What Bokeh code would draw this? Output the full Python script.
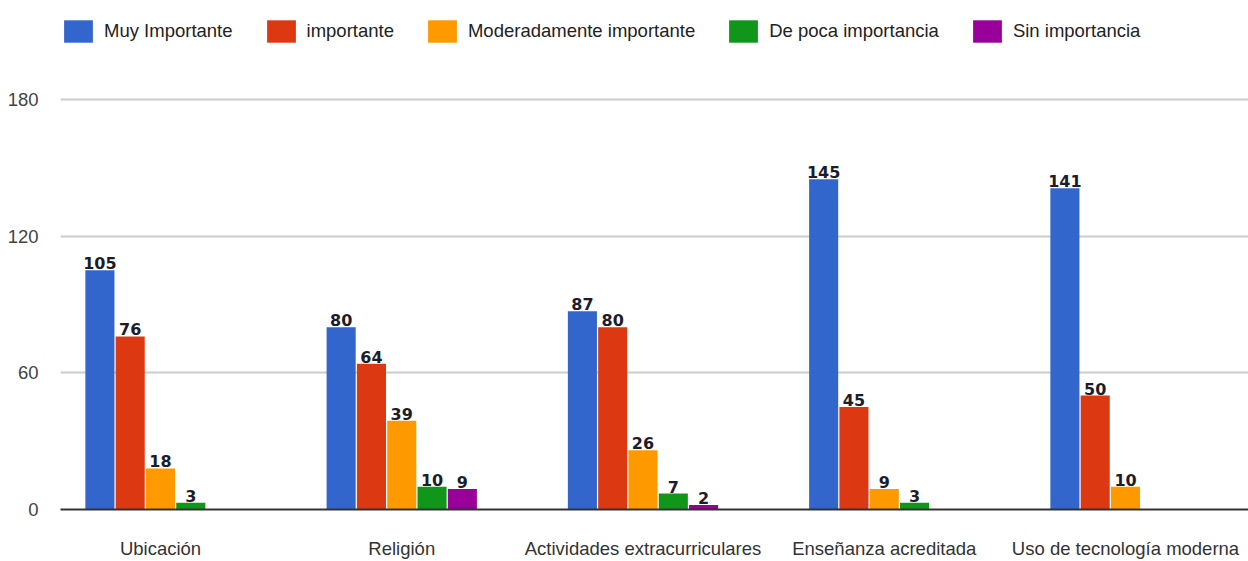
import numpy as np
from bokeh.plotting import figure
from bokeh.models import Legend, LegendItem, FixedTicker, Range1d, ColumnDataSource
from bokeh.embed import file_html
from bokeh.resources import INLINE
from bokeh.core.properties import value

# ---- data ----
categories = ["Ubicación", "Religión", "Actividades extracurriculares",
              "Enseñanza acreditada", "Uso de tecnología moderna"]
series = ["Muy Importante", "importante", "Moderadamente importante",
          "De poca importancia", "Sin importancia"]
muy_importante = [105, 80, 87, 145, 141]
importante = [76, 64, 80, 45, 50]
moderadamente_importante = [18, 39, 26, 9, 10]
de_poca_importancia = [3, 10, 7, 3, 0]
sin_importancia = [0, 9, 2, 0, 0]
y_ticks = [0, 60, 120, 180]

values = [muy_importante, importante, moderadamente_importante,
          de_poca_importancia, sin_importancia]
colors = ["#3366CC", "#DC3912", "#FF9900", "#109618", "#990099"]

FONT = "Liberation Sans"

# frame spans from the top of the figure to y=509; the legend sits inside it
p = figure(width=1248, height=561, output_backend="svg", toolbar_location=None,
           x_range=Range1d(-0.4145, 4.5098), y_range=Range1d(0, 223.46),
           min_border_left=60, min_border_right=0, min_border_top=0,
           min_border_bottom=52)
p.outline_line_color = None
p.background_fill_color = "white"

xs = np.arange(len(categories))
bw = 0.1256
items = []
for j, (name, vals, col) in enumerate(zip(series, values, colors)):
    xpos = xs + (j - 2) * bw
    r = p.vbar(x=xpos, top=vals, width=bw * 0.96, fill_color=col,
               line_color=None)
    items.append(LegendItem(label=name, renderers=[r]))
    lx = [x for x, v in zip(xpos, vals) if v > 0]
    lv = [v for v in vals if v > 0]
    src = ColumnDataSource(dict(x=lx, y=lv, t=[str(v) for v in lv]))
    p.text(x="x", y="y", text="t", source=src, text_align="center",
           text_baseline="bottom", y_offset=-1, text_font=value("DejaVu Sans"),
           text_font_style="bold", text_font_size="16px", text_color="#1c1c2a")

legend = Legend(items=items, location=(0, 464), orientation="horizontal",
                glyph_width=36, glyph_height=28, label_standoff=8, spacing=30,
                padding=0, margin=0, border_line_color=None,
                background_fill_alpha=0,
                label_text_font=FONT, label_text_font_size="18.5px",
                label_text_color="#222222")
p.add_layout(legend, "center")

# axes
p.xaxis.ticker = FixedTicker(ticks=list(xs))
p.xaxis.major_label_overrides = {int(i): c for i, c in enumerate(categories)}
p.xaxis.major_tick_line_color = None
p.xaxis.minor_tick_line_color = None
p.xaxis.axis_line_color = "#333333"
p.xaxis.axis_line_width = 2
p.xaxis.major_label_standoff = 22
p.xaxis.major_label_text_font = FONT
p.xaxis.major_label_text_font_size = "18.5px"
p.xaxis.major_label_text_color = "#333333"

p.yaxis.ticker = FixedTicker(ticks=y_ticks)
p.yaxis.axis_line_color = None
p.yaxis.major_tick_line_color = None
p.yaxis.minor_tick_line_color = None
p.yaxis.major_label_standoff = 16
p.yaxis.major_label_text_font = FONT
p.yaxis.major_label_text_font_size = "18.5px"
p.yaxis.major_label_text_color = "#444444"

p.xgrid.grid_line_color = None
p.ygrid.grid_line_color = "#cccccc"
p.ygrid.grid_line_width = 2

open("out.html", "w").write(file_html(p, INLINE))
